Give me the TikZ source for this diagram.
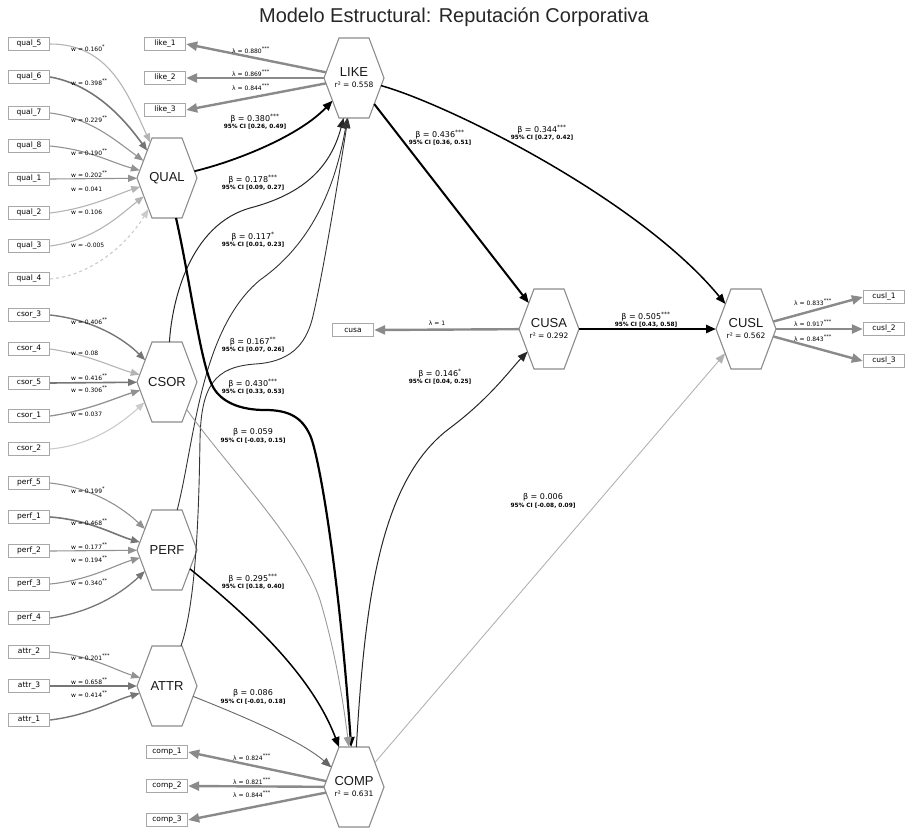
\documentclass[tikz,border=0pt]{standalone}
\usepackage{fontspec}
\setmainfont{Liberation Sans}
\newfontfamily\lblfont{DejaVu Sans}
\usetikzlibrary{shapes.geometric,arrows.meta}

\definecolor{hexline}{HTML}{8C8C8C}
\definecolor{boxline}{HTML}{A8A8A8}
\definecolor{loadgray}{HTML}{8A8A8A}
\definecolor{wdark}{HTML}{767676}
\definecolor{wmid}{HTML}{929292}
\definecolor{wlight}{HTML}{B4B4B4}
\definecolor{wpale}{HTML}{CBCBCB}

\newcommand\sig[1]{\textsuperscript{#1}}
\newcommand\pathtext[2]{β = #1\\[-1.5pt]{\bfseries\fontsize{5.8}{6}\selectfont 95\% CI #2}}

\tikzset{
  hex/.style={draw=hexline, fill=white, line width=1.1pt, regular polygon,
    regular polygon sides=6, minimum size=40pt,
    inner sep=0pt, outer sep=0pt, xscale=1.5, yscale=2.309, transform shape},
  hexname/.style={font=\fontsize{13}{13}\selectfont, inner sep=0pt, text=black!90},
  rsq/.style={font=\lblfont\fontsize{7.5}{8}\selectfont, inner sep=0pt},
  ind/.style={draw=boxline, line width=1.4pt, fill=white, minimum width=41pt,
    minimum height=12.5pt, inner sep=0pt, font=\lblfont\fontsize{7.5}{8}\selectfont},
  wlab/.style={anchor=west, inner sep=0pt, font=\lblfont\fontsize{6}{6}\selectfont},
  llab/.style={inner sep=0pt, font=\lblfont\fontsize{6}{6}\selectfont},
  blab/.style={inner sep=0pt, align=center, font=\lblfont\fontsize{8}{9}\selectfont},
  formative/.style={-{Triangle[length=9pt,width=7pt]}, line width=1.1pt},
  reflective/.style={-{Triangle[length=11pt,width=9pt]}, line width=2.4pt, color=loadgray},
  struct/.style={-{Triangle[length=10pt,width=8pt]}},
}

\begin{document}
\begin{tikzpicture}[x=1pt,y=-1pt]
\useasboundingbox (0,0) rectangle (907,827);

\node[font=\fontsize{20}{20}\selectfont, text=black!85] (title) at (454,17)
  {Modelo Estructural: Reputación Corporativa};

% ---- constructs ----
\node[hex] (QUAL) at (167,178) {};
\node[hex] (CSOR) at (167,382) {};
\node[hex] (PERF) at (167,550) {};
\node[hex] (ATTR) at (167,686) {};
\node[hex] (LIKE) at (354,78) {};
\node[hex] (COMP) at (354,787) {};
\node[hex] (CUSA) at (549,329) {};
\node[hex] (CUSL) at (746,329) {};

\node[hexname] (QUALname) at (QUAL) {QUAL};
\node[hexname] (CSORname) at (CSOR) {CSOR};
\node[hexname] (PERFname) at (PERF) {PERF};
\node[hexname] (ATTRname) at (ATTR) {ATTR};
\node[hexname] (LIKEname) at (354,72) {LIKE};
\node[rsq] (LIKErsq) at (354,85) {r² = 0.558};
\node[hexname] (COMPname) at (354,781) {COMP};
\node[rsq] (COMPrsq) at (354,794) {r² = 0.631};
\node[hexname] (CUSAname) at (549,323) {CUSA};
\node[rsq] (CUSArsq) at (549,336) {r² = 0.292};
\node[hexname] (CUSLname) at (746,323) {CUSL};
\node[rsq] (CUSLrsq) at (746,336) {r² = 0.562};

% ---- indicators ----
\node[ind] (qual5) at (29,44) {qual\_5};
\node[ind] (qual6) at (29,77) {qual\_6};
\node[ind] (qual7) at (29,113) {qual\_7};
\node[ind] (qual8) at (29,146) {qual\_8};
\node[ind] (qual1) at (29,179) {qual\_1};
\node[ind] (qual2) at (29,213) {qual\_2};
\node[ind] (qual3) at (29,246) {qual\_3};
\node[ind] (qual4) at (29,279) {qual\_4};
\node[ind] (csor3) at (29,315) {csor\_3};
\node[ind] (csor4) at (29,349) {csor\_4};
\node[ind] (csor5) at (29,383) {csor\_5};
\node[ind] (csor1) at (29,416) {csor\_1};
\node[ind] (csor2) at (29,449) {csor\_2};
\node[ind] (perf5) at (29,483) {perf\_5};
\node[ind] (perf1) at (29,517) {perf\_1};
\node[ind] (perf2) at (29,551) {perf\_2};
\node[ind] (perf3) at (29,584) {perf\_3};
\node[ind] (perf4) at (29,618) {perf\_4};
\node[ind] (attr2) at (29,652) {attr\_2};
\node[ind] (attr3) at (29,686) {attr\_3};
\node[ind] (attr1) at (29,720) {attr\_1};
\node[ind] (like1) at (165,44) {like\_1};
\node[ind] (like2) at (165,78) {like\_2};
\node[ind] (like3) at (165,110) {like\_3};
\node[ind] (comp1) at (167,752) {comp\_1};
\node[ind] (comp2) at (167,786) {comp\_2};
\node[ind] (comp3) at (167,820) {comp\_3};
\node[ind] (cusa) at (353,330) {cusa};
\node[ind] (cusl1) at (884,297) {cusl\_1};
\node[ind] (cusl2) at (884,329) {cusl\_2};
\node[ind] (cusl3) at (884,361) {cusl\_3};

% ---- formative weights ----
\draw[formative, color=wlight] (qual5.east) .. controls (110,44) and (128,95) .. (QUAL);
\draw[formative, color=wdark, line width=1.6pt] (qual6.east) .. controls (95,85) and (125,120) .. (QUAL);
\draw[formative, color=wmid] (qual7.east) .. controls (90,118) and (115,140) .. (QUAL);
\draw[formative, color=wmid] (qual8.east) .. controls (90,150) and (110,162) .. (QUAL);
\draw[formative, color=wmid] (qual1.east) -- (QUAL);
\draw[formative, color=wlight] (qual2.east) .. controls (90,208) and (115,195) .. (QUAL);
\draw[formative, color=wlight] (qual3.east) .. controls (95,240) and (120,215) .. (QUAL);
\draw[formative, color=wpale, dashed] (qual4.east) .. controls (95,275) and (130,240) .. (QUAL);

\draw[formative, color=wdark, line width=1.4pt] (csor3.east) .. controls (95,320) and (125,340) .. (CSOR);
\draw[formative, color=wlight] (csor4.east) .. controls (90,355) and (115,368) .. (CSOR);
\draw[formative, color=wdark, line width=1.6pt] (csor5.east) -- (CSOR);
\draw[formative, color=wmid, line width=1.3pt] (csor1.east) .. controls (90,410) and (115,398) .. (CSOR);
\draw[formative, color=wpale] (csor2.east) .. controls (95,445) and (125,420) .. (CSOR);

\draw[formative, color=wmid] (perf5.east) .. controls (95,488) and (125,510) .. (PERF);
\draw[formative, color=wdark, line width=1.6pt] (perf1.east) .. controls (90,520) and (115,535) .. (PERF);
\draw[formative, color=wmid] (perf2.east) -- (PERF);
\draw[formative, color=wmid] (perf3.east) .. controls (90,580) and (115,565) .. (PERF);
\draw[formative, color=wdark, line width=1.3pt] (perf4.east) .. controls (95,612) and (125,590) .. (PERF);

\draw[formative, color=wmid] (attr2.east) .. controls (90,655) and (115,670) .. (ATTR);
\draw[formative, color=wdark, line width=2pt] (attr3.east) -- (ATTR);
\draw[formative, color=wdark, line width=1.4pt] (attr1.east) .. controls (90,715) and (115,700) .. (ATTR);

% ---- loadings ----
\draw[reflective] (LIKE) -- (like1.east);
\draw[reflective] (LIKE) -- (like2.east);
\draw[reflective] (LIKE) -- (like3.east);
\draw[reflective] (COMP) -- (comp1.east);
\draw[reflective] (COMP) -- (comp2.east);
\draw[reflective] (COMP) -- (comp3.east);
\draw[reflective] (CUSA) -- (cusa.east);
\draw[reflective] (CUSL) -- (cusl1.west);
\draw[reflective] (CUSL) -- (cusl2.west);
\draw[reflective] (CUSL) -- (cusl3.west);

% ---- structural paths ----
\draw[struct, line width=1.8pt] (QUAL) .. controls (240,160) and (300,135) .. (LIKE);
\draw[struct, line width=1pt, color=black!85] (CSOR) .. controls (172,300) and (190,225) .. (250,208)
  .. controls (300,195) and (330,170) .. (LIKE);
\draw[struct, line width=0.9pt, color=black!80] (PERF) .. controls (195,440) and (200,330) .. (260,280)
  .. controls (310,245) and (335,190) .. (LIKE);
\draw[struct, line width=0.9pt, color=black!80] (ATTR) .. controls (197,600) and (199,500) .. (200,440)
  .. controls (201,385) and (215,367) .. (255,364)
  .. controls (290,362) and (305,345) .. (312,320)
  .. controls (322,280) and (340,170) .. (LIKE);
\draw[struct, line width=2.2pt] (QUAL) .. controls (190,280) and (200,360) .. (212,385)
  .. controls (220,402) and (240,410) .. (265,410)
  .. controls (290,410) and (302,418) .. (310,435)
  .. controls (318,452) and (338,560) .. (COMP);
\draw[struct, line width=0.9pt, color=black!40] (CSOR) .. controls (230,470) and (300,540) .. (320,600)
  .. controls (335,650) and (343,700) .. (COMP);
\draw[struct, line width=1.5pt] (PERF) .. controls (240,610) and (310,670) .. (COMP);
\draw[struct, line width=0.9pt, color=black!60] (ATTR) .. controls (240,715) and (300,740) .. (COMP);
\draw[struct, line width=2pt] (LIKE) -- (CUSA);
\draw[struct, line width=1.5pt] (LIKE) .. controls (450,105) and (640,200) .. (CUSL);
\draw[struct, line width=2.6pt] (CUSA) -- (CUSL);
\draw[struct, line width=1pt, color=black!85] (COMP) .. controls (365,600) and (380,480) .. (450,428)
  .. controls (490,398) and (510,370) .. (CUSA);
\draw[struct, line width=0.9pt, color=black!30] (COMP) -- (CUSL);

% ---- weight labels ----
\node[wlab] (wq5) at (71,48) {w = 0.160\sig{*}};
\node[wlab] (wq6) at (71,82) {w = 0.398\sig{**}};
\node[wlab] (wq7) at (71,119) {w = 0.229\sig{**}};
\node[wlab] (wq8) at (71,152) {w = 0.190\sig{**}};
\node[wlab] (wq1) at (71,174) {w = 0.202\sig{**}};
\node[wlab] (wq2) at (71,189) {w = 0.041};
\node[wlab] (wq3) at (71,212) {w = 0.106};
\node[wlab] (wq4) at (71,245) {w = -0.005};
\node[wlab] (wc3) at (71,321) {w = 0.406\sig{**}};
\node[wlab] (wc4) at (71,353) {w = 0.08};
\node[wlab] (wc5) at (71,377) {w = 0.416\sig{**}};
\node[wlab] (wc1) at (71,389) {w = 0.306\sig{**}};
\node[wlab] (wc2) at (71,414) {w = 0.037};
\node[wlab] (wp5) at (71,490) {w = 0.199\sig{*}};
\node[wlab] (wp1) at (71,522) {w = 0.468\sig{**}};
\node[wlab] (wp2) at (71,546) {w = 0.177\sig{**}};
\node[wlab] (wp3) at (71,559) {w = 0.194\sig{**}};
\node[wlab] (wp4) at (71,582) {w = 0.340\sig{**}};
\node[wlab] (wa2) at (71,657) {w = 0.201\sig{***}};
\node[wlab] (wa3) at (71,681) {w = 0.658\sig{**}};
\node[wlab] (wa1) at (71,694) {w = 0.414\sig{**}};

% ---- loading labels ----
\node[llab] (ll1) at (251,50) {λ = 0.880\sig{***}};
\node[llab] (ll2) at (251,73) {λ = 0.869\sig{***}};
\node[llab] (ll3) at (251,87) {λ = 0.844\sig{***}};
\node[llab] (lc1) at (252,757) {λ = 0.824\sig{***}};
\node[llab] (lc2) at (252,781) {λ = 0.821\sig{***}};
\node[llab] (lc3) at (252,794) {λ = 0.844\sig{***}};
\node[llab] (lsa) at (437,323) {λ = 1};
\node[llab] (ls1) at (813,302) {λ = 0.833\sig{***}};
\node[llab] (ls2) at (813,323) {λ = 0.917\sig{***}};
\node[llab] (ls3) at (813,338) {λ = 0.843\sig{***}};

% ---- path labels ----
\node[blab] (bql) at (255,122) {\pathtext{0.380\sig{***}}{[0.26, 0.49]}};
\node[blab] (bcl) at (253,183) {\pathtext{0.178\sig{***}}{[0.09, 0.27]}};
\node[blab] (bpl) at (253,240) {\pathtext{0.117\sig{*}}{[0.01, 0.23]}};
\node[blab] (bal) at (253,345) {\pathtext{0.167\sig{**}}{[0.07, 0.26]}};
\node[blab] (bqc) at (253,387) {\pathtext{0.430\sig{***}}{[0.33, 0.53]}};
\node[blab] (bcc) at (253,436) {\pathtext{0.059}{[-0.03, 0.15]}};
\node[blab] (bpc) at (253,582) {\pathtext{0.295\sig{***}}{[0.18, 0.40]}};
\node[blab] (bac) at (253,697) {\pathtext{0.086}{[-0.01, 0.18]}};
\node[blab] (blsa) at (440,138) {\pathtext{0.436\sig{***}}{[0.36, 0.51]}};
\node[blab] (blsl) at (542,133) {\pathtext{0.344\sig{***}}{[0.27, 0.42]}};
\node[blab] (bsasl) at (646,320) {\pathtext{0.505\sig{***}}{[0.43, 0.58]}};
\node[blab] (bcsa) at (440,377) {\pathtext{0.146\sig{*}}{[0.04, 0.25]}};
\node[blab] (bcsl) at (543,501) {\pathtext{0.006}{[-0.08, 0.09]}};
\end{tikzpicture}
\end{document}
